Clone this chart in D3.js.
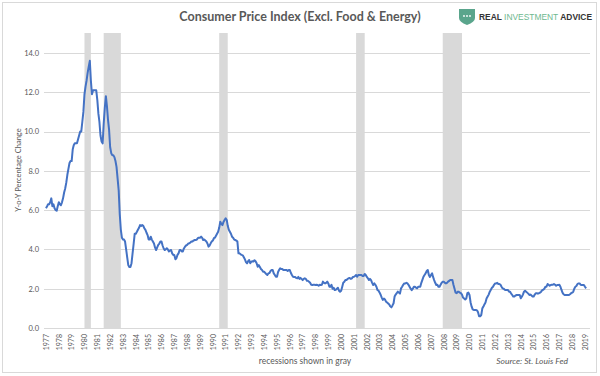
<!DOCTYPE html>
<html>
<head>
<meta charset="utf-8">
<script src="https://cdnjs.cloudflare.com/ajax/libs/d3/7.8.5/d3.min.js"></script>
<style>
  html, body { margin: 0; padding: 0; background: #fff; }
  svg { display: block; font-family: Lato, "Open Sans", sans-serif; }
</style>
</head>
<body>
<div class="box"></div>
<script>
// core CPI, y-o-y %, one row per year (Jan..Dec), from Jan 1977
const firstYear = 1977;
const coreCpi = [
  6.1, 6.2, 6.3, 6.3, 6.4, 6.6, 6.2, 6.3, 6.1, 6.0, 5.97, 6.2,      // 1977
  6.4, 6.3, 6.25, 6.4, 6.6, 6.9, 7.1, 7.4, 7.8, 8.1, 8.4, 8.5,      // 1978
  8.5, 9.1, 9.3, 9.4, 9.4, 9.4, 9.6, 9.8, 10.0, 10.0, 10.5, 11.0,   // 1979
  11.9, 12.3, 12.6, 13.0, 13.3, 13.6, 12.6, 11.9, 12.1, 12.1, 12.1, 12.1, // 1980
  11.6, 10.9, 10.5, 9.8, 9.5, 9.4, 10.4, 11.2, 11.8, 11.3, 10.6, 10.1,    // 1981
  9.2, 8.9, 8.8, 8.8, 8.7, 8.5, 8.2, 7.6, 7.0, 5.8, 5.0, 4.6,       // 1982
  4.5, 4.5, 4.4, 4.0, 3.6, 3.2, 3.1, 3.1, 3.3, 3.8, 4.3, 4.8,       // 1983
  4.8, 4.9, 5.0, 5.1, 5.24, 5.2, 5.24, 5.2, 5.07, 5.0, 4.85, 4.73,  // 1984
  4.5, 4.5, 4.65, 4.5, 4.4, 4.3, 4.1, 3.97, 4.1, 4.23, 4.3, 4.4,    // 1985
  4.4, 4.2, 4.06, 3.97, 4.0, 4.06, 4.0, 3.9, 3.95, 3.97, 3.8, 3.72, // 1986
  3.72, 3.5, 3.55, 3.72, 3.8, 3.97, 3.97, 3.9, 3.9, 4.05, 4.14, 4.2, // 1987
  4.23, 4.3, 4.31, 4.35, 4.4, 4.4, 4.45, 4.48, 4.48, 4.5, 4.57, 4.6, // 1988
  4.6, 4.65, 4.6, 4.48, 4.5, 4.45, 4.4, 4.3, 4.14, 4.2, 4.31, 4.4,  // 1989
  4.45, 4.57, 4.6, 4.7, 4.8, 4.9, 5.1, 5.41, 5.3, 5.24, 5.4, 5.5,   // 1990
  5.58, 5.5, 5.2, 5.0, 4.9, 4.8, 4.65, 4.6, 4.5, 4.48, 4.45, 4.4,   // 1991
  3.8, 3.8, 3.75, 3.72, 3.7, 3.6, 3.5, 3.35, 3.29, 3.4, 3.46, 3.3,  // 1992
  3.38, 3.4, 3.38, 3.45, 3.4, 3.3, 3.12, 3.2, 3.1, 3.0, 2.95, 2.87, // 1993
  2.87, 2.8, 2.75, 2.7, 2.78, 2.8, 2.9, 2.95, 2.95, 2.78, 2.7, 2.61, // 1994
  2.61, 2.85, 2.95, 3.04, 3.0, 3.0, 2.95, 2.95, 2.95, 2.95, 2.9, 2.95, // 1995
  2.95, 2.8, 2.7, 2.61, 2.6, 2.6, 2.55, 2.53, 2.6, 2.5, 2.55, 2.5,  // 1996
  2.44, 2.5, 2.53, 2.5, 2.4, 2.4, 2.35, 2.3, 2.2, 2.19, 2.2, 2.2,   // 1997
  2.19, 2.2, 2.19, 2.15, 2.2, 2.19, 2.2, 2.36, 2.3, 2.27, 2.3, 2.36, // 1998
  2.27, 2.1, 2.1, 2.2, 2.0, 2.05, 1.93, 1.95, 2.0, 2.05, 1.9, 1.85, // 1999
  1.9, 2.1, 2.3, 2.35, 2.44, 2.44, 2.5, 2.53, 2.55, 2.5, 2.53, 2.6, // 2000
  2.61, 2.65, 2.7, 2.61, 2.7, 2.7, 2.7, 2.7, 2.65, 2.65, 2.75, 2.7, // 2001
  2.6, 2.53, 2.44, 2.5, 2.44, 2.3, 2.19, 2.27, 2.2, 2.1, 1.93, 1.9, // 2002
  1.8, 1.68, 1.55, 1.43, 1.5, 1.45, 1.34, 1.3, 1.25, 1.2, 1.1, 1.05, // 2003
  1.15, 1.26, 1.6, 1.7, 1.77, 1.85, 1.8, 1.75, 2.02, 2.1, 2.2, 2.27, // 2004
  2.27, 2.3, 2.27, 2.2, 2.1, 2.0, 1.93, 2.0, 2.1, 2.1, 2.05, 2.02,  // 2005
  2.1, 2.1, 2.1, 2.3, 2.45, 2.61, 2.7, 2.78, 2.9, 2.95, 2.7, 2.6,   // 2006
  2.7, 2.78, 2.6, 2.44, 2.3, 2.19, 2.2, 2.1, 2.1, 2.2, 2.3, 2.36,   // 2007
  2.36, 2.3, 2.27, 2.3, 2.36, 2.4, 2.44, 2.44, 2.44, 2.2, 2.0, 1.8, // 2008
  1.77, 1.85, 1.85, 1.8, 1.77, 1.7, 1.55, 1.5, 1.45, 1.5, 1.77, 1.8, // 2009
  1.68, 1.3, 1.1, 0.95, 0.92, 0.92, 0.92, 0.9, 0.8, 0.6, 0.6, 0.66, // 2010
  1.0, 1.09, 1.2, 1.3, 1.5, 1.6, 1.7, 1.85, 1.95, 2.05, 2.1, 2.2,   // 2011
  2.27, 2.27, 2.3, 2.24, 2.24, 2.2, 2.1, 2.02, 2.0, 1.95, 1.93, 1.93, // 2012
  1.93, 1.85, 1.85, 1.75, 1.68, 1.6, 1.6, 1.65, 1.68, 1.68, 1.68, 1.68, // 2013
  1.51, 1.6, 1.7, 1.85, 1.9, 1.85, 1.8, 1.75, 1.68, 1.7, 1.65, 1.6, // 2014
  1.6, 1.7, 1.77, 1.77, 1.75, 1.77, 1.8, 1.85, 1.93, 1.95, 2.0, 2.1, // 2015
  2.1, 2.24, 2.2, 2.15, 2.19, 2.2, 2.2, 2.24, 2.2, 2.15, 2.19, 2.19, // 2016
  2.2, 2.1, 1.95, 1.8, 1.72, 1.68, 1.68, 1.68, 1.68, 1.68, 1.72, 1.77, // 2017
  1.8, 1.85, 2.0, 2.1, 2.14, 2.24, 2.27, 2.27, 2.2, 2.19, 2.19, 2.19, // 2018
  2.1, 2.02                                                          // 2019
];

// recessions (NBER), [start, end] as "YYYY-MM"
const recessionStarts = ['1980-01', '1981-07', '1990-07', '2001-03', '2007-12'];
const recessionEnds   = ['1980-07', '1982-11', '1991-03', '2001-11', '2009-06'];

const yTicks = [0, 2, 4, 6, 8, 10, 12, 14];
const yearLabels = d3.range(1977, 2020);

const W = 600, H = 376;
const plot = {left: 46, right: 585, top: 33, bottom: 328};

const parseMonth = d3.timeParse('%Y-%m');

const svg = d3.select('.box')
              .append('svg')
              .attr('width', W)
              .attr('height', H);

// cadre
svg.append('rect')
   .attr('x', 2.5).attr('y', 2.5)
   .attr('width', 594).attr('height', 370)
   .attr('fill', '#fff')
   .attr('stroke', '#d9d9d9');

const x = d3.scaleTime()
            .domain([new Date(1977, 0, 1), new Date(2019, 0, 1)])
            .range([plot.left, plot.right]);

const y = d3.scaleLinear()
            .domain([0, 14])
            .range([plot.bottom, 53]);

const data = coreCpi.map((v, i) => ({date: new Date(firstYear, i, 1), value: v}));

// gridlines
svg.append('g')
   .selectAll('line')
   .data(yTicks)
   .enter()
   .append('line')
   .attr('x1', 44).attr('x2', 590)
   .attr('y1', d => Math.round(y(d)) + 0.5)
   .attr('y2', d => Math.round(y(d)) + 0.5)
   .attr('stroke', '#d9d9d9')
   .attr('stroke-width', 1);

// recession bands
svg.append('g')
   .selectAll('rect')
   .data(recessionStarts.map((s, i) => ({start: parseMonth(s), end: parseMonth(recessionEnds[i])})))
   .enter()
   .append('rect')
   .attr('x', d => x(d.start))
   .attr('width', d => x(d.end) - x(d.start))
   .attr('y', plot.top)
   .attr('height', plot.bottom - plot.top)
   .attr('fill', '#d9d9d9');

// y axis labels
const yAxis = d3.axisLeft(y)
                .tickValues(yTicks)
                .tickFormat(d3.format('.1f'))
                .tickSize(0)
                .tickPadding(0);

const yg = svg.append('g')
              .attr('transform', 'translate(39, 0)')
              .call(yAxis);
yg.select('.domain').remove();
yg.selectAll('text')
  .attr('fill', '#595959')
  .style('font-size', '7.5px')
  .style('font-family', 'Lato, sans-serif');

// x axis labels (years, rotated)
const xAxis = d3.axisBottom(x)
                .tickValues(yearLabels.map(yr => new Date(yr, 0, 1)))
                .tickFormat(d3.timeFormat('%Y'))
                .tickSize(0);

const xg = svg.append('g')
              .attr('transform', `translate(0, ${plot.bottom})`)
              .call(xAxis);
xg.select('.domain').remove();
xg.selectAll('text')
  .attr('fill', '#595959')
  .style('font-size', '7px')
  .style('font-family', 'Lato, sans-serif')
  .attr('text-anchor', 'end')
  .attr('transform', 'rotate(-90)')
  .attr('x', -6)
  .attr('y', 0)
  .attr('dy', '0.32em');

// line
const line = d3.line()
               .x(d => x(d.date))
               .y(d => y(d.value));

svg.append('path')
   .datum(data)
   .attr('d', line)
   .attr('fill', 'none')
   .attr('stroke', '#4472c4')
   .attr('stroke-width', 2)
   .attr('stroke-linejoin', 'round');

// titres
svg.append('text')
   .attr('x', 300).attr('y', 21)
   .attr('text-anchor', 'middle')
   .attr('fill', '#595959')
   .style('font-size', '12.5px')
   .style('font-weight', 'bold')
   .text('Consumer Price Index (Excl. Food & Energy)');

svg.append('text')
   .attr('transform', 'translate(21, 170) rotate(-90)')
   .attr('text-anchor', 'middle')
   .attr('fill', '#595959')
   .style('font-size', '7.5px')
   .text('Y-o-Y Percentage Change');

svg.append('text')
   .attr('x', 305).attr('y', 364)
   .attr('text-anchor', 'middle')
   .attr('fill', '#595959')
   .style('font-size', '8.5px')
   .text('recessions shown in gray');

svg.append('text')
   .attr('x', 568).attr('y', 364)
   .attr('text-anchor', 'end')
   .attr('fill', '#595959')
   .style('font-size', '8.5px')
   .style('font-style', 'italic')
   .text('Source: St. Louis Fed');

// logo
const logo = svg.append('g').attr('transform', 'translate(459, 9)');
logo.append('path')
    .attr('d', 'M0,0 H16 V9 Q16,13 8,16 Q0,13 0,9 Z')
    .attr('fill', '#5aa58c');
logo.selectAll('circle')
    .data([5, 8, 11])
    .enter()
    .append('circle')
    .attr('cx', d => d).attr('cy', 7).attr('r', 0.9)
    .attr('fill', '#fff');

const brand = svg.append('text')
                 .attr('x', 479).attr('y', 20)
                 .style('font-size', '8.5px')
                 .style('font-weight', 'bold')
                 .style('font-family', '"Liberation Sans", Arial, sans-serif')
                 .attr('textLength', 113)
                 .attr('lengthAdjust', 'spacingAndGlyphs');
brand.append('tspan').attr('fill', '#333').text('REAL ');
brand.append('tspan').attr('fill', '#6db88f').style('font-weight', 'normal').text('INVESTMENT');
brand.append('tspan').attr('fill', '#333').text(' ADVICE');
</script>
</body>
</html>
